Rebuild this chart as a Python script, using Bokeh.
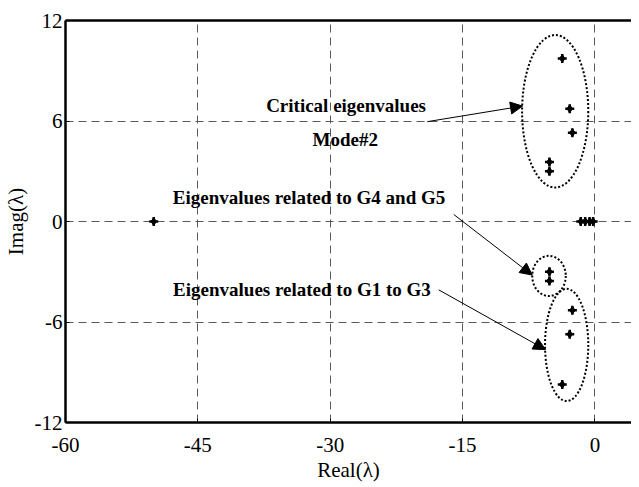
from bokeh.plotting import figure
from bokeh.models import ColumnDataSource, Arrow, NormalHead, FixedTicker, LinearAxis
from bokeh.embed import file_html
from bokeh.resources import INLINE
from bokeh.core.properties import value

# Eigenvalue data
eig_real = [-50.0, -1.6, -1.1, -0.6, -0.2,
            -3.7, -2.85, -2.55, -5.15, -5.15,
            -3.7, -2.85, -2.55, -5.15, -5.15]
eig_imag = [0.0, 0.0, 0.0, 0.0, 0.0,
            9.73, 6.73, 5.3, 3.55, 3.0,
            -9.73, -6.73, -5.3, -3.55, -3.0]

# Dotted ellipses around groups
ell_x = [-4.5, -5.2, -3.2]
ell_y = [6.58, -3.25, -7.37]
ell_w = [7.5, 3.8, 4.9]
ell_h = [9.1, 2.4, 6.7]

# Annotation texts
ann_text = ["Critical eigenvalues", "Mode#2", "Eigenvalues related to G4 and G5", "Eigenvalues related to G1 to G3"]
ann_x = [-28.2, -28.3, -32.4, -33.2]
ann_y = [6.95, 4.87, 1.41, -4.04]

# Arrows
arr_x0 = [-19.0, -16.0, -17.7]
arr_y0 = [5.96, 0.42, -4.08]
arr_x1 = [-8.2, -7.1, -5.6]
arr_y1 = [6.89, -3.2, -7.65]

x_ticks = [-60, -45, -30, -15, 0]
y_ticks = [-12, -6, 0, 6, 12]

FONT = "Liberation Serif"

p = figure(width=631, height=485, x_range=(-60, 4.15), y_range=(-12, 12),
           output_backend="svg", toolbar_location=None,
           min_border_left=64, min_border_top=20, min_border_right=0, min_border_bottom=63)
p.outline_line_color = None
p.background_fill_color = "white"
p.border_fill_color = "white"

for ax in (p.xaxis[0], p.yaxis[0]):
    ax.major_label_text_font = FONT
    ax.major_label_text_font_size = "21px"
    ax.major_label_text_color = "black"
    ax.axis_label_text_font = FONT
    ax.axis_label_text_font_size = "21px"
    ax.axis_label_text_font_style = "normal"
    ax.axis_label_text_color = "black"
    ax.axis_line_width = 2.5
    ax.axis_line_color = "black"
    ax.major_tick_in = 4
    ax.major_tick_out = 0
    ax.major_tick_line_color = "black"
    ax.minor_tick_line_color = None

p.xaxis.ticker = FixedTicker(ticks=x_ticks)
p.yaxis.ticker = FixedTicker(ticks=y_ticks)
p.xaxis.major_label_overrides = {t: str(t) for t in x_ticks}
p.yaxis.major_label_overrides = {t: str(t) for t in y_ticks}
p.xaxis.axis_label = "Real(λ)"
p.yaxis.axis_label = "Imag(λ)"
p.xaxis.major_label_standoff = 15
p.yaxis.major_label_standoff = 3
p.xaxis.axis_label_standoff = 3
p.yaxis.axis_label_standoff = 4

top = LinearAxis(ticker=FixedTicker(ticks=[]), minor_tick_line_color=None,
                 axis_line_width=2.5, axis_line_color="black")
p.add_layout(top, "above")

p.grid.grid_line_color = "#5a5a5a"
p.grid.grid_line_dash = "8 5"
p.grid.grid_line_width = 1
p.xgrid.ticker = FixedTicker(ticks=x_ticks)
p.ygrid.ticker = FixedTicker(ticks=y_ticks)

src = ColumnDataSource(dict(x=eig_real, y=eig_imag))
p.scatter("x", "y", source=src, marker="diamond", size=8, color="black")
p.scatter("x", "y", source=src, marker="cross", size=9, line_width=2.5, color="black")

esrc = ColumnDataSource(dict(x=ell_x, y=ell_y, w=ell_w, h=ell_h))
p.ellipse("x", "y", width="w", height="h", source=esrc, fill_color=None,
          line_color="black", line_width=2, line_dash="2 2")

for x0, y0, x1, y1 in zip(arr_x0, arr_y0, arr_x1, arr_y1):
    p.add_layout(Arrow(end=NormalHead(size=12, fill_color="black", line_color="black"),
                       x_start=x0, y_start=y0, x_end=x1, y_end=y1,
                       line_color="black", line_width=1))

tsrc = ColumnDataSource(dict(x=ann_x, y=ann_y, t=ann_text))
p.text("x", "y", text="t", source=tsrc, text_font=value(FONT), text_font_size="19px",
       text_font_style="bold", text_align="center", text_baseline="middle", text_color="black")

open("out.html", "w").write(file_html(p, INLINE))
